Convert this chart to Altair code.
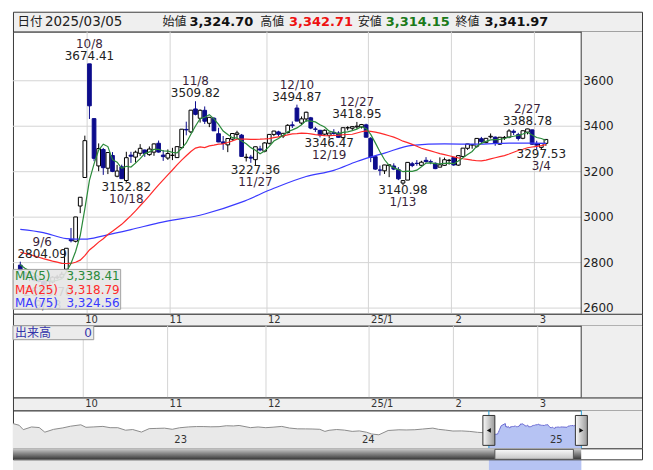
import altair as alt
import pandas as pd

# ---------------- data ----------------
dates = [
    "2024-09-06", "2024-09-09", "2024-09-10", "2024-09-11", "2024-09-12", "2024-09-13", "2024-09-18", "2024-09-19",
    "2024-09-20", "2024-09-23", "2024-09-24", "2024-09-25", "2024-09-26", "2024-09-27", "2024-09-30",
    "2024-10-08", "2024-10-09", "2024-10-10", "2024-10-11", "2024-10-14", "2024-10-15", "2024-10-16", "2024-10-17",
    "2024-10-18", "2024-10-21", "2024-10-22", "2024-10-23", "2024-10-24", "2024-10-25", "2024-10-28", "2024-10-29",
    "2024-10-30", "2024-10-31",
    "2024-11-01", "2024-11-04", "2024-11-05", "2024-11-06", "2024-11-07", "2024-11-08", "2024-11-11", "2024-11-12",
    "2024-11-13", "2024-11-14", "2024-11-15", "2024-11-18", "2024-11-19", "2024-11-20", "2024-11-21", "2024-11-22",
    "2024-11-25", "2024-11-26", "2024-11-27", "2024-11-28", "2024-11-29",
    "2024-12-02", "2024-12-03", "2024-12-04", "2024-12-05", "2024-12-06", "2024-12-09", "2024-12-10", "2024-12-11",
    "2024-12-12", "2024-12-13", "2024-12-16", "2024-12-17", "2024-12-18", "2024-12-19", "2024-12-20", "2024-12-23",
    "2024-12-24", "2024-12-25", "2024-12-26", "2024-12-27", "2024-12-30", "2024-12-31",
    "2025-01-02", "2025-01-03", "2025-01-06", "2025-01-07", "2025-01-08", "2025-01-09", "2025-01-10", "2025-01-13",
    "2025-01-14", "2025-01-15", "2025-01-16", "2025-01-17", "2025-01-20", "2025-01-21", "2025-01-22", "2025-01-23",
    "2025-01-24", "2025-01-27",
    "2025-02-05", "2025-02-06", "2025-02-07", "2025-02-10", "2025-02-11", "2025-02-12", "2025-02-13", "2025-02-14",
    "2025-02-17", "2025-02-18", "2025-02-19", "2025-02-20", "2025-02-21", "2025-02-24", "2025-02-25", "2025-02-26",
    "2025-02-27", "2025-02-28",
    "2025-03-03", "2025-03-04", "2025-03-05",
]
opens = [
    2788.9, 2756.4, 2733.6, 2738.9, 2722.0, 2717.2, 2697.3, 2714.8, 2733.4, 2735.2, 2770.8, 2901.4, 2893.9, 3049.0, 3174.5,
    3674.40, 3433.5, 3225.4, 3297.6, 3215.3, 3271.2, 3180.1, 3221.6, 3161.3, 3272.8, 3264.2, 3281.0, 3295.4, 3275.0,
    3286.0, 3325.0, 3273.0, 3260.0,
    3272.0, 3262.0, 3306.0, 3386.0, 3375.0, 3476.0, 3435.0, 3470.0, 3413.0, 3435.0, 3367.0, 3331.0, 3318.0, 3343.0,
    3364.0, 3361.0, 3262.0, 3264.0, 3253.0, 3300.0, 3290.0,
    3325.0, 3364.0, 3375.0, 3357.0, 3372.0, 3406.0, 3480.0, 3414.0, 3432.0, 3437.0, 3388.0, 3382.0, 3365.0, 3360.0,
    3373.0, 3370.0, 3350.0, 3393.0, 3391.0, 3397.0, 3397.0, 3406.0,
    3347.0, 3266.0, 3207.0, 3204.0, 3227.0, 3225.0, 3209.0, 3150.0, 3163.0, 3235.0, 3237.0, 3228.0, 3250.0, 3244.0,
    3237.0, 3220.0, 3228.0, 3249.0,
    3262.0, 3229.0, 3267.0, 3303.0, 3318.0, 3312.0, 3345.0, 3328.0, 3353.0, 3352.0, 3321.0, 3349.0, 3352.0, 3378.0,
    3363.0, 3347.0, 3374.0, 3384.0,
    3323.0, 3307.0, 3324.70,
]
highs = [
    2804.09, 2758.5, 2745.8, 2742.0, 2730.4, 2721.4, 2720.1, 2740.0, 2746.2, 2760.0, 2863.3, 2952.4, 3000.95, 3087.53, 3358.59,
    3674.41, 3433.6, 3324.5, 3304.5, 3285.5, 3286.2, 3229.8, 3230.9, 3287.6, 3287.4, 3292.9, 3321.2, 3297.0, 3311.0,
    3323.9, 3337.0, 3295.0, 3298.0,
    3305.0, 3310.5, 3387.5, 3420.0, 3471.0, 3509.82, 3474.0, 3487.0, 3440.0, 3440.0, 3393.0, 3357.0, 3346.5, 3369.0,
    3380.0, 3366.0, 3279.0, 3274.0, 3310.0, 3314.0, 3330.0,
    3364.5, 3380.0, 3380.0, 3370.0, 3409.0, 3421.0, 3494.87, 3443.0, 3464.0, 3441.0, 3397.0, 3384.0, 3386.0, 3371.0,
    3387.0, 3378.0, 3394.0, 3400.0, 3399.0, 3418.95, 3410.0, 3411.0,
    3352.0, 3267.0, 3227.0, 3230.0, 3233.0, 3237.0, 3220.0, 3162.0, 3241.5, 3243.0, 3251.0, 3248.0, 3264.0, 3253.0,
    3241.0, 3263.0, 3262.0, 3256.0,
    3262.0, 3271.0, 3304.0, 3322.5, 3322.0, 3346.5, 3353.0, 3347.0, 3368.0, 3355.0, 3352.0, 3357.0, 3387.0, 3386.0,
    3371.0, 3381.0, 3388.78, 3385.0,
    3336.0, 3325.0, 3342.71,
]
lows = [
    2765.0, 2725.4, 2718.4, 2717.4, 2712.5, 2702.7, 2689.70, 2709.0, 2727.5, 2731.0, 2762.0, 2889.1, 2889.0, 3017.6, 3174.5,
    3431.9, 3246.0, 3202.0, 3186.0, 3189.4, 3198.0, 3175.5, 3169.1, 3152.82, 3238.5, 3240.0, 3270.0, 3265.0, 3270.0,
    3270.0, 3284.0, 3247.6, 3252.0,
    3251.0, 3261.0, 3300.0, 3360.0, 3370.0, 3448.0, 3416.0, 3410.0, 3396.0, 3379.0, 3330.0, 3296.0, 3286.0, 3336.0,
    3349.0, 3265.0, 3245.0, 3239.0, 3227.36, 3290.0, 3285.0,
    3320.0, 3356.0, 3356.0, 3348.0, 3368.0, 3392.0, 3422.0, 3405.0, 3420.0, 3387.0, 3375.0, 3351.0, 3360.0, 3346.47,
    3363.0, 3350.0, 3350.0, 3382.0, 3383.0, 3389.0, 3390.0, 3351.0,
    3242.0, 3208.0, 3183.0, 3190.0, 3176.0, 3207.0, 3163.0, 3140.98, 3163.0, 3220.0, 3226.0, 3227.0, 3240.0, 3233.0,
    3211.0, 3220.0, 3226.0, 3231.0,
    3226.0, 3226.0, 3265.0, 3296.0, 3301.0, 3305.0, 3324.0, 3325.0, 3346.0, 3314.0, 3318.0, 3340.0, 3347.0, 3361.0,
    3337.0, 3343.0, 3364.0, 3318.0,
    3298.0, 3297.53, 3314.15,
]
closes = [
    2765.81, 2736.49, 2744.19, 2721.80, 2717.12, 2704.09, 2717.28, 2736.02, 2736.81, 2748.92, 2863.13, 2896.31, 3000.95,
    3087.53, 3336.50,
    3489.78, 3258.86, 3301.93, 3217.74, 3284.32, 3201.29, 3202.95, 3169.38, 3261.56, 3268.11, 3285.87, 3302.80, 3280.26,
    3299.70, 3322.20, 3286.41, 3266.24, 3279.82,
    3272.01, 3310.21, 3386.99, 3383.81, 3470.66, 3452.30, 3470.07, 3421.97, 3439.28, 3379.84, 3330.73, 3323.85, 3346.01,
    3367.99, 3370.40, 3267.19, 3263.76, 3259.76, 3309.78, 3295.70, 3326.46,
    3363.98, 3378.81, 3364.65, 3368.86, 3404.08, 3402.53, 3422.66, 3432.49, 3461.50, 3391.88, 3386.33, 3361.49, 3382.21,
    3370.03, 3368.07, 3351.26, 3393.53, 3393.35, 3398.08, 3400.14, 3407.33, 3351.76,
    3262.56, 3211.43, 3206.92, 3229.64, 3230.17, 3211.39, 3168.52, 3160.76, 3240.94, 3227.12, 3236.03, 3241.82, 3244.38,
    3242.62, 3213.62, 3230.16, 3252.63, 3250.60,
    3229.49, 3270.66, 3303.67, 3322.17, 3318.06, 3346.39, 3332.48, 3346.72, 3355.83, 3324.49, 3351.54, 3350.78, 3379.11,
    3373.03, 3346.04, 3380.21, 3388.06, 3320.90,
    3316.93, 3324.21, 3341.97,
]
# closes of the 24 sessions before the first candle, only used to seed MA(5)/MA(25)
pre_closes = [
    2860.70, 2867.28, 2869.90, 2869.83, 2862.19, 2858.20, 2867.95, 2850.65, 2877.36, 2879.43, 2893.67, 2866.66,
    2856.58, 2848.77, 2854.37, 2855.52, 2848.73, 2837.43, 2823.11, 2842.21, 2811.04, 2802.98, 2784.28, 2788.31,
]
# MA(75) (session index -> value)
ma75_idx = [0, 5, 10, 14, 18, 24, 30, 40, 48, 55, 62, 68, 73, 79, 85, 92, 99, 106, 114]
ma75_val = [2946, 2932, 2906, 2903, 2918, 2945, 2975, 3014, 3066, 3127, 3179, 3206, 3245, 3282, 3316, 3322, 3321,
            3326, 3324.56]

peak_dates = ["2024-09-06", "2024-10-08", "2024-11-08", "2024-12-10", "2024-12-27", "2025-02-27"]
trough_dates = ["2024-09-18", "2024-10-18", "2024-11-27", "2024-12-19", "2025-01-13", "2025-03-04"]

month_bounds = [15, 33, 54, 76, 94, 112]
month_labels = ["10", "11", "12", "25/1", "2", "3"]
price_ticks = [2600, 2800, 3000, 3200, 3400, 3600]

ma_names = ["MA(5)", "MA(25)", "MA(75)"]
ma_last = [3338.41, 3318.79, 3324.56]

nav_dates = [
    "2022-02-23", "2022-03-07", "2022-03-15", "2022-03-31", "2022-04-15", "2022-04-26", "2022-05-13", "2022-05-31",
    "2022-06-15", "2022-07-05", "2022-07-15", "2022-07-29", "2022-08-17", "2022-08-31", "2022-09-15", "2022-09-30",
    "2022-10-14", "2022-10-31", "2022-11-15", "2022-11-30", "2022-12-15", "2022-12-30", "2023-01-13", "2023-01-31",
    "2023-02-15", "2023-02-28", "2023-03-15", "2023-03-31", "2023-04-14", "2023-04-28", "2023-05-09", "2023-05-31",
    "2023-06-15", "2023-06-30", "2023-07-14", "2023-07-31", "2023-08-15", "2023-08-31", "2023-09-15", "2023-09-28",
    "2023-10-13", "2023-10-23", "2023-10-31", "2023-11-15", "2023-11-30", "2023-12-15", "2023-12-29", "2024-01-12",
    "2024-01-22", "2024-02-05", "2024-02-23", "2024-03-15", "2024-03-29", "2024-04-15", "2024-04-30", "2024-05-20",
    "2024-05-31", "2024-06-14", "2024-06-28", "2024-07-15", "2024-07-31", "2024-08-15", "2024-08-30", "2024-09-06",
]
nav_vals = [
    3489, 3372, 3064, 3252, 3211, 2887, 3084, 3186, 3305, 3404, 3228, 3253, 3292, 3202, 3199, 3024,
    3071, 2893, 3134, 3151, 3168, 3089, 3195, 3255, 3280, 3280, 3263, 3273, 3338, 3323, 3357, 3204,
    3252, 3202, 3237, 3291, 3176, 3120, 3117, 3110, 3088, 2939, 3018, 3072, 3030, 2942, 2975, 2881,
    2756, 2702, 3004, 3054, 3041, 3057, 3105, 3171, 3087, 3033, 2967, 2975, 2939, 2877, 2842, 2766,
]
year_dates = ["2023-01-01", "2024-01-01", "2025-01-01"]
year_labels = ["23", "24", "25"]

# ---------------- styles / layout ----------------
NUM = "DejaVu Sans"
JP = "Noto Sans CJK JP"
DOWN = "#0c0c8c"
GREEN = "#2a8a3a"
RED = "#ff2a2a"
BLUE = "#3a3aff"
PANEL = "#efefef"
GRID = "#d4d4d4"
W = 631
PLOT_W = 570
PX = 4.70
H_HEAD, H_MAIN, H_BAND1, H_VOL, H_BAND2, H_NAV, H_SCR = 20, 283, 12, 72, 13, 38, 11


def md(s):
    _, m, d = s.split("-")
    return f"{int(m)}/{int(d)}"


one = pd.DataFrame({"k": [0]})
df = pd.DataFrame({"d": dates, "o": opens, "h": highs, "l": lows, "c": closes})
df["i"] = range(len(df))
df["u"] = df["i"] + 0.5
df["dir"] = ["up" if c >= o else "down" for o, c in zip(opens, closes)]
pos = {d: k for k, d in enumerate(dates)}

ma_df = pd.DataFrame({"i": list(range(-len(pre_closes), 0)) + list(range(len(closes))),
                      "c": pre_closes + closes})
ma75_df = pd.DataFrame({"u": [k + 0.5 for k in ma75_idx], "v": ma75_val})

peaks = pd.DataFrame({"u": [pos[d] + 0.5 for d in peak_dates],
                      "v": [highs[pos[d]] for d in peak_dates],
                      "md": [md(d) for d in peak_dates]})
peaks["vs"] = peaks["v"].map(lambda v: f"{v:.2f}")
troughs = pd.DataFrame({"u": [pos[d] + 0.5 for d in trough_dates],
                        "v": [lows[pos[d]] for d in trough_dates],
                        "md": [md(d) for d in trough_dates]})
troughs["vs"] = troughs["v"].map(lambda v: f"{v:.2f}")

xs = alt.Scale(domain=[0, W / PX], nice=False, zero=False)
ys = alt.Scale(domain=[2575, 3816], nice=False, zero=False)


def X(f):
    return alt.X(f"{f}:Q", scale=xs, axis=None)


def Y(f):
    return alt.Y(f"{f}:Q", scale=ys, axis=None)


def vtext(txt, x, y, color="#222", size=12, font=NUM, align="left", weight="normal"):
    return alt.Chart(one).mark_text(text=txt, font=font, fontSize=size, color=color, align=align,
                                    baseline="middle", fontWeight=weight).encode(x=alt.value(x), y=alt.value(y))


def right_panel(h):
    return alt.Chart(one).mark_rect(color=PANEL).encode(
        x=alt.value(PLOT_W), x2=alt.value(W), y=alt.value(0), y2=alt.value(h))


def sep_rule():
    return alt.Chart(one).mark_rule(color="#3a3a3a", strokeWidth=1).encode(x=alt.value(PLOT_W))


vgrid = alt.Chart(pd.DataFrame({"b": month_bounds})).mark_rule(color=GRID, strokeWidth=1).encode(x=X("b"))

# ---------------- header ----------------
hdr = [
    (4.5, "日付", JP, 12.5, "normal", "#222"),
    (32, dates[-1].replace("-", "/"), NUM, 13.5, "normal", "#222"),
    (150, "始値", JP, 12, "normal", "#222"),
    (177, f"{opens[-1]:,.2f}", NUM, 13, "bold", "#111"),
    (248, "高値", JP, 12, "normal", "#222"),
    (277, f"{highs[-1]:,.2f}", NUM, 13, "bold", "#ee1111"),
    (346, "安値", JP, 12, "normal", "#222"),
    (374, f"{lows[-1]:,.2f}", NUM, 13, "bold", "#1a7a1a"),
    (444, "終値", JP, 12, "normal", "#222"),
    (473, f"{closes[-1]:,.2f}", NUM, 13, "bold", "#111"),
]
header = alt.layer(*[vtext(t, x, 10, color=c, size=s, font=f, weight=w) for x, t, f, s, w, c in hdr]).properties(
    width=W, height=H_HEAD, view=alt.ViewBackground(fill=PANEL))

# ---------------- main price panel ----------------
hgrid = alt.Chart(pd.DataFrame({"v": price_ticks})).mark_rule(color=GRID, strokeWidth=1).encode(
    y=Y("v"), x=alt.value(0), x2=alt.value(PLOT_W))

wick = alt.Chart(df).mark_rule(strokeWidth=1).encode(
    x=X("u"), y=Y("l"), y2=alt.Y2("h:Q"),
    color=alt.Color("dir:N", scale=alt.Scale(domain=["up", "down"], range=["#000000", DOWN]), legend=None))
body = alt.Chart(df).mark_bar(size=3.7, strokeWidth=1, orient="vertical").encode(
    x=X("u"), y=Y("o"), y2=alt.Y2("c:Q"),
    fill=alt.Fill("dir:N", scale=alt.Scale(domain=["up", "down"], range=["#ffffff", DOWN]), legend=None),
    stroke=alt.Stroke("dir:N", scale=alt.Scale(domain=["up", "down"], range=["#000000", DOWN]), legend=None))

ma_base = (alt.Chart(ma_df)
           .transform_window(ma5="mean(c)", frame=[-4, 0], sort=[alt.SortField("i")])
           .transform_window(ma25="mean(c)", frame=[-24, 0], sort=[alt.SortField("i")])
           .transform_filter("datum.i >= 0")
           .transform_calculate(u="datum.i + 0.5"))
ma5_line = ma_base.mark_line(color=GREEN, strokeWidth=1.2).encode(x=X("u"), y=Y("ma5"))
ma25_line = ma_base.mark_line(color=RED, strokeWidth=1.2).encode(x=X("u"), y=Y("ma25"))
ma75_line = alt.Chart(ma75_df).mark_line(color=BLUE, strokeWidth=1.2, interpolate="monotone").encode(
    x=X("u"), y=Y("v"))

DATE_C = "#3a1f3a"
VAL_C = "#222222"


def ann(data, field, dy, color, dx=0):
    return alt.Chart(data).mark_text(font=NUM, fontSize=12, color=color, baseline="middle", align="center",
                                     dy=dy, dx=dx).encode(x=X("u"), y=Y("v"), text=f"{field}:N")


pk_edge = peaks[peaks["u"] < 1]
pk_in = peaks[peaks["u"] >= 1]
anns = [
    ann(pk_in, "vs", -8, VAL_C), ann(pk_in, "md", -20, DATE_C),
    ann(pk_edge, "vs", -8, VAL_C, dx=22), ann(pk_edge, "md", -20, DATE_C, dx=22),
    ann(troughs, "vs", 4.5, VAL_C), ann(troughs, "md", 17, DATE_C),
]

leg_box = alt.Chart(one).mark_rect(fill="#e6e6e6", opacity=0.9, stroke="#9a9a9a", strokeWidth=1).encode(
    x=alt.value(0), x2=alt.value(108), y=alt.value(238.5), y2=alt.value(278.5))
leg_cols = [GREEN, RED, BLUE]
leg_rows = [245.5, 259, 272.5]
leg_txt = []
for r in range(3):
    leg_txt.append(vtext(ma_names[r], 2, leg_rows[r], color=leg_cols[r]))
    leg_txt.append(vtext(f"{ma_last[r]:,.2f}", 107, leg_rows[r], color=leg_cols[r], align="right"))

tick_lbl = alt.Chart(pd.DataFrame({"v": price_ticks})).mark_text(
    font=NUM, fontSize=12, color="#222", align="left", baseline="middle").encode(
    x=alt.value(PLOT_W + 2), y=Y("v"), text="v:N")

main = alt.layer(right_panel(H_MAIN), hgrid, vgrid, wick, body, ma75_line, ma25_line, ma5_line,
                 *anns, leg_box, *leg_txt, sep_rule(), tick_lbl).properties(
    width=W, height=H_MAIN, view=alt.ViewBackground(fill="white"))

# ---------------- axis bands ----------------
mdf = pd.DataFrame({"b": month_bounds, "t": month_labels})


def band(h):
    return alt.Chart(mdf).mark_text(font=NUM, fontSize=10, color="#333", align="left", baseline="middle",
                                    dx=2).encode(x=X("b"), y=alt.value(h / 2), text="t:N").properties(
        width=W, height=h, view=alt.ViewBackground(fill=PANEL))


band1 = band(H_BAND1)
band2 = band(H_BAND2)

# ---------------- volume panel ----------------
vol_box = alt.Chart(one).mark_rect(fill="#ececec", stroke="#9a9a9a", strokeWidth=1).encode(
    x=alt.value(0), x2=alt.value(81), y=alt.value(0), y2=alt.value(14))
vol = alt.layer(right_panel(H_VOL), vgrid, sep_rule(), vol_box,
                vtext("出来高", 2, 7, color="#3333aa", font=JP, size=12),
                vtext("0", 79, 7, color="#3333aa", align="right")).properties(
    width=W, height=H_VOL, view=alt.ViewBackground(fill="white"))

# ---------------- navigator ----------------
nav_xs = alt.Scale(domain=[alt.DateTime(year=2022, month=2, date=23, utc=True),
                           alt.DateTime(year=2025, month=7, date=1, utc=True)])
nav_ys = alt.Scale(domain=[1750, 4410], nice=False, zero=False)
nav = pd.DataFrame({"d": nav_dates, "v": nav_vals})
win = pd.DataFrame({"d": dates, "v": closes})
edges = pd.DataFrame({"d": [dates[0], dates[-1]], "side": ["L", "R"]})
years = pd.DataFrame({"d": year_dates, "t": year_labels})


def NX(f="d"):
    return alt.X(f"{f}:T", scale=nav_xs, axis=None)


NY = alt.Y("v:Q", scale=nav_ys, axis=None)

grad_handle = alt.LinearGradient(gradient="linear", x1=0, x2=1, y1=0, y2=0,
                                 stops=[alt.GradientStop(color="#fafafa", offset=0),
                                        alt.GradientStop(color="#9a9a9a", offset=1)])
nav_layers = [
    right_panel(H_NAV),
    alt.Chart(nav).mark_area(color="#e9e9e9").encode(x=NX(), y=NY, y2=alt.value(H_NAV)),
    alt.Chart(nav).mark_line(color="#8c8c8c", strokeWidth=1).encode(x=NX(), y=NY),
    alt.Chart(win).mark_area(color="#b6c3f3").encode(x=NX(), y=NY, y2=alt.value(H_NAV)),
    alt.Chart(win).mark_line(color="#6a6ad2", strokeWidth=1).encode(x=NX(), y=NY),
    alt.Chart(years).mark_text(font=NUM, fontSize=10, color="#333", align="left", baseline="middle", dx=1).encode(
        x=NX(), y=alt.value(30), text="t:N"),
    alt.Chart(edges).mark_rule(color="#2a9fd6", strokeWidth=1).encode(x=NX()),
    alt.Chart(edges).mark_rect(fill=grad_handle, stroke="#333", strokeWidth=1, xOffset=-6, x2Offset=6).encode(
        x=NX(), x2=alt.X2("d:T"), y=alt.value(5), y2=alt.value(35)),
    alt.Chart(edges).transform_filter("datum.side == 'L'").mark_point(
        shape="triangle-left", filled=True, size=22, color="#111", opacity=1).encode(x=NX(), y=alt.value(20)),
    alt.Chart(edges).transform_filter("datum.side == 'R'").mark_point(
        shape="triangle-right", filled=True, size=22, color="#111", opacity=1).encode(x=NX(), y=alt.value(20)),
]
navigator = alt.layer(*nav_layers).properties(width=W, height=H_NAV, view=alt.ViewBackground(fill="white"))

# ---------------- scrollbar ----------------
grad_dark = alt.LinearGradient(gradient="linear", x1=0, x2=0, y1=0, y2=1,
                               stops=[alt.GradientStop(color="#cfcfcf", offset=0),
                                      alt.GradientStop(color="#8a8a8a", offset=0.45),
                                      alt.GradientStop(color="#3a3a3a", offset=1)])
grad_thumb = alt.LinearGradient(gradient="linear", x1=0, x2=0, y1=0, y2=1,
                                stops=[alt.GradientStop(color="#fbfbfb", offset=0),
                                       alt.GradientStop(color="#c4c4c4", offset=1)])
thumb_df = pd.DataFrame({"a": [dates[0]], "b": [dates[-1]]})
scroll = alt.layer(
    alt.Chart(one).mark_rect(fill=grad_dark).encode(
        x=alt.value(0), x2=alt.value(PLOT_W), y=alt.value(0), y2=alt.value(H_SCR)),
    alt.Chart(thumb_df).mark_rect(fill=grad_thumb, stroke="#555", strokeWidth=1, xOffset=6, x2Offset=-8).encode(
        x=NX("a"), x2=alt.X2("b:T"), y=alt.value(1), y2=alt.value(H_SCR)),
).properties(width=W, height=H_SCR, view=alt.ViewBackground(fill="white"))

chart = alt.vconcat(header, main, band1, vol, band2, navigator, scroll, spacing=0, bounds="flush").properties(
    padding=2
).configure(padding=2).configure_view(stroke="#3a3a3a", strokeWidth=1).configure_concat(spacing=0)

chart.save("out.html", embed_options={"renderer": "svg", "actions": False})
